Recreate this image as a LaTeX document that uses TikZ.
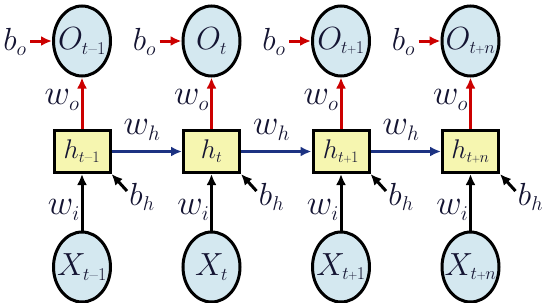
\RequirePackage{fix-cm}
\documentclass[tikz,border=0pt]{standalone}
\usetikzlibrary{arrows.meta,shapes.geometric}
\definecolor{cfill}{RGB}{212,232,240}
\definecolor{bfill}{RGB}{246,246,176}
\definecolor{cred}{RGB}{204,0,0}
\definecolor{cblue}{RGB}{28,50,130}
\definecolor{ctext}{RGB}{20,20,50}
\newcommand\fsz[1]{\fontsize{#1}{#1}\selectfont}
\newcommand\zb[1]{\makebox[0pt]{#1}}
% main symbol, subscript size, subscript text
\newcommand\lbx[3]{$#1_{\mbox{\fsz{#2}#3}}$}
\newcommand\pl{\scalebox{0.72}{+}}
\begin{document}
\begin{tikzpicture}[x=1pt,y=-1pt,
  circ/.style={ellipse,draw=black,line width=3pt,fill=cfill,minimum width=57pt,minimum height=70pt,inner sep=0pt,text=ctext,font=\fsz{32pt}},
  hbox/.style={rectangle,draw=black,line width=3pt,fill=bfill,minimum width=56pt,minimum height=42pt,inner sep=0pt,text=ctext,font=\fsz{27pt}},
  lab/.style={inner sep=0pt,text=ctext,font=\fsz{35pt}},
  blab/.style={inner sep=0pt,text=ctext,font=\fsz{32pt}},
  arr/.style={line width=3pt,-{Latex[length=11pt,width=10pt]}},
  redarr/.style={arr,draw=cred,-{Latex[length=11pt,width=10pt,fill=cred]}},
  bluearr/.style={arr,draw=cblue,-{Latex[length=11pt,width=10pt,fill=cblue]}},
  blackarr/.style={arr,draw=black}]
\useasboundingbox (0,0) rectangle (550,303);
\foreach \i/\cx/\s in {1/82/{$t$\kern0.3pt–\kern0.3pt1},2/211.5/{$t$},3/341/{$t$\kern-0.5pt\pl\kern-0.5pt1},4/470.5/{$t$\kern-0.5pt\pl\kern-0.5pt$n$}}{
  \node[circ] (O\i) at (\cx,41) {\zb{\lbx{O}{18pt}{\s}}};
  \node[hbox] (h\i) at (\cx,151.5) {\zb{\lbx{h}{16pt}{\s}}};
  \node[circ] (X\i) at (\cx,267) {\zb{\lbx{X}{18pt}{\s}}};
  \node[blab] (bo\i) at (\cx-67,42) {\lbx{b}{20pt}{$o$}};
  \coordinate (bs\i) at (\cx-52,41);
  \draw[redarr] (bs\i) -- (O\i.west);
  \draw[redarr] (h\i) -- (O\i);
  \node[lab] (wo\i) at (\cx-20,100) {\lbx{w}{21pt}{$o$}};
  \draw[blackarr] (X\i) -- (h\i);
  \node[lab] (wi\i) at (\cx-18,210) {\lbx{w}{21pt}{$i$}};
  \node[blab] (bh\i) at (\cx+60,197) {\lbx{b}{20pt}{$h$}};
  \coordinate (bhs\i) at (\cx+45,191);
  \draw[blackarr] (bhs\i) -- (h\i.south east);
}
\foreach \a/\b/\cx in {1/2/82,2/3/211.5,3/4/341}{
  \draw[bluearr] (h\a) -- (h\b);
  \node[lab] (wh\a) at (\cx+60,130) {\lbx{w}{21pt}{$h$}};
}
\end{tikzpicture}
\end{document}
